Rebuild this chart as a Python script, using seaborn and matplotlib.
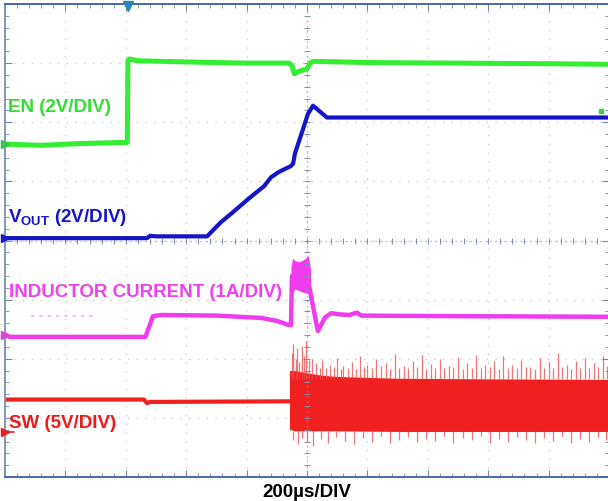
"""
Start-up waveforms (EN, VOUT, inductor current, SW), scope screenshot recreation.
"""

import numpy as np
import matplotlib
matplotlib.use("Agg")
import matplotlib.pyplot as plt
import seaborn as sns

sns.set_theme(style="white")
plt.rcParams['font.family'] = ['Liberation Sans', 'DejaVu Sans']
plt.rcParams['mathtext.fontset'] = 'custom'
plt.rcParams['mathtext.rm'] = 'Liberation Sans:bold'
plt.rcParams['mathtext.bf'] = 'Liberation Sans:bold'

# time in µs (200 µs/div), levels in screen divisions (0 = bottom, 8 = top)
en_t = [0, 120, 250, 405, 407, 412, 440, 600, 800, 940, 950, 958, 968, 985, 1000, 1010, 1020, 1200, 1500, 1800, 2000]
en_v = [5.63, 5.61, 5.64, 5.66, 7.04, 7.07, 7.04, 7.02, 7.00, 7.00, 6.96, 6.82, 6.85, 6.88, 6.90, 7.00, 7.03, 7.01, 7.00, 6.99, 6.98]

vout_t = [0, 300, 470, 480, 500, 669, 715, 755, 805, 858, 881, 907, 947, 954, 960, 984, 1003, 1020, 1043, 1066, 1300, 1600, 2000]
vout_v = [4.04, 4.04, 4.04, 4.08, 4.07, 4.07, 4.31, 4.48, 4.70, 4.92, 5.07, 5.16, 5.26, 5.30, 5.47, 5.84, 6.14, 6.28, 6.18, 6.08, 6.08, 6.08, 6.08]

il_t = [0, 15, 465, 490, 520, 700, 850, 900, 940, 947, 950, 1008, 1036, 1060, 1080, 1110, 1140, 1165, 1180, 1500, 2000]
il_v = [2.41, 2.37, 2.37, 2.72, 2.74, 2.73, 2.69, 2.64, 2.57, 2.57, 3.40, 3.20, 2.47, 2.70, 2.77, 2.75, 2.74, 2.78, 2.73, 2.72, 2.71]
il_band_t = [947, 952, 960, 975, 990, 1005, 1012]
il_band_top = [3.55, 3.70, 3.66, 3.64, 3.68, 3.74, 3.50]
il_band_bot = [3.05, 3.12, 3.18, 3.15, 3.12, 3.10, 3.05]
il_ghost_t = [86, 291]
il_ghost_v = [2.72, 2.72]

sw_t = [0, 460, 470, 480, 947]
sw_v = [1.31, 1.31, 1.25, 1.27, 1.28]
burst_t = [947, 960, 1000, 1050, 1100, 1300, 1600, 2000]
burst_top = [1.80, 1.80, 1.76, 1.72, 1.70, 1.67, 1.66, 1.65]
burst_bot = [0.80, 0.78, 0.78, 0.78, 0.78, 0.77, 0.77, 0.77]
spike_t = [950, 955, 962, 968, 975, 982, 990, 998, 1005, 1015, 1030, 1042, 1050, 1063, 1075, 1088,
           1100, 1112, 1120, 1135, 1150, 1162, 1175, 1188, 1200, 1215, 1230, 1245, 1260, 1275, 1290,
           1305, 1320, 1335, 1350, 1365, 1380, 1395, 1410, 1425, 1440, 1455, 1470, 1485, 1500, 1515,
           1530, 1545, 1560, 1575, 1590, 1605, 1620, 1635, 1650, 1665, 1680, 1695, 1710, 1725, 1740,
           1755, 1770, 1785, 1800, 1815, 1830, 1845, 1860, 1875, 1890, 1905, 1920, 1935, 1950, 1965, 1980, 1995]
spike_top = [2.10, 2.25, 2.00, 2.18, 1.95, 2.22, 2.05, 2.30, 1.98, 2.00, 1.92, 1.85, 1.98, 1.84, 1.90, 1.86,
             2.02, 1.83, 1.88, 1.85, 1.95, 1.82, 2.05, 1.86, 1.90, 1.84, 2.00, 1.87, 1.93, 1.83, 2.08,
             1.85, 1.88, 1.84, 1.97, 1.86, 2.06, 1.83, 1.91, 1.85, 1.99, 1.84, 1.87, 1.86, 2.03, 1.83,
             1.92, 1.85, 2.07, 1.84, 1.89, 1.86, 1.96, 1.83, 2.04, 1.85, 1.90, 1.84, 1.98, 1.86, 1.86,
             1.83, 2.01, 1.85, 1.94, 1.84, 2.09, 1.86, 1.90, 1.83, 1.97, 1.85, 2.02, 1.84, 1.93, 1.86, 2.05, 1.88]
spike_bt = [955, 970, 985, 1000, 1020, 1045, 1070, 1095, 1125, 1155, 1185, 1215, 1245, 1275, 1305, 1335,
            1365, 1395, 1425, 1455, 1485, 1515, 1545, 1575, 1605, 1635, 1665, 1695, 1725, 1755, 1785,
            1815, 1845, 1875, 1905, 1935, 1965, 1990]
spike_bot = [0.62, 0.55, 0.66, 0.60, 0.52, 0.64, 0.58, 0.68, 0.61, 0.56, 0.66, 0.60, 0.70, 0.57, 0.63, 0.68,
             0.59, 0.65, 0.61, 0.70, 0.57, 0.66, 0.62, 0.69, 0.58, 0.64, 0.60, 0.68, 0.63, 0.57, 0.66,
             0.61, 0.69, 0.58, 0.64, 0.60, 0.67, 0.62]

# channel ground markers on the left edge, trigger marker on top
ref_levels = [5.63, 4.05, 2.40, 0.76]
ref_colors = ['#2ec84a', '#1a1acc', '#e040e0', '#e82020']
trigger_t = 407

GREEN = '#33ee33'
BLUE = '#1414c8'
MAGENTA = '#ee3cee'
RED = '#f02020'

W, H = 608, 502
fig = plt.figure(figsize=(W / 100, H / 100), dpi=100)
ax = fig.add_axes([5 / W, 24 / H, 604 / W, 473 / H])
ax.set_xlim(0, 2000)
ax.set_ylim(0, 8)

# graticule
ax.set_xticks(np.arange(0, 2001, 200))
ax.set_yticks(np.arange(0, 8.01, 1))
ax.set_xticks(np.arange(0, 2001, 40), minor=True)
ax.set_yticks(np.arange(0, 8.01, 0.2), minor=True)
ax.grid(True, which='major', color='#c4c4c4', linestyle=(0, (1, 6)), linewidth=0.9)
ax.tick_params(which='both', direction='in', top=True, right=True, bottom=True, left=True,
               labelbottom=False, labelleft=False, color='#7088a8')
ax.tick_params(which='major', length=5, width=0.8)
ax.tick_params(which='minor', length=3, width=0.6)
for side in ['left', 'right', 'top', 'bottom']:
    ax.spines[side].set_color('#4a68a8')
    ax.spines[side].set_linewidth(1.4)
ax.spines['left'].set_color('#8098b8')

ax.axvline(1000, color='#a0a8b8', linestyle=(0, (1, 3)), linewidth=0.9)
ax.axhline(4, color='#a0a8b8', linestyle=(0, (1, 3)), linewidth=0.9)
ax.plot(np.arange(0, 2001, 40), np.full(51, 4.0), ls='none', marker='|', ms=5, mew=0.7, color='#8090a8')
ax.plot(np.full(41, 1000.0), np.arange(0, 8.01, 0.2), ls='none', marker='_', ms=5, mew=0.7, color='#8090a8')

# traces
sns.lineplot(x=il_ghost_t, y=il_ghost_v, ax=ax, color='#f2b0f2', linewidth=1.2, linestyle=(0, (2, 3)))
sns.lineplot(x=en_t, y=en_v, ax=ax, color=GREEN, linewidth=3.6, sort=False)
sns.lineplot(x=vout_t, y=vout_v, ax=ax, color=BLUE, linewidth=3.0, sort=False)
ax.fill_between(il_band_t, il_band_bot, il_band_top, color=MAGENTA, linewidth=0)
sns.lineplot(x=il_t, y=il_v, ax=ax, color=MAGENTA, linewidth=3.2, sort=False)

ax.vlines(spike_t, burst_top[-1], spike_top, color='#f04848', linewidth=0.9, alpha=0.75)
ax.vlines(spike_bt, spike_bot, burst_bot[-1], color='#f04848', linewidth=0.9, alpha=0.75)
ax.fill_between(burst_t, burst_bot, burst_top, color=RED, linewidth=0)
sns.lineplot(x=sw_t, y=sw_v, ax=ax, color=RED, linewidth=3.0, sort=False)
ax.vlines([burst_t[0]], burst_bot[0], burst_top[0], color=RED, linewidth=1.5)

for lvl, c in zip(ref_levels, ref_colors):
    ax.plot([0], [lvl], marker='>', ms=6, color=c, clip_on=False, zorder=5)
ax.plot([0, 30], [ref_levels[3], ref_levels[3]], color=ref_colors[3], lw=1.2, clip_on=False)
ax.plot([trigger_t], [7.97], marker='v', ms=7, color='#2a88b8', clip_on=False, zorder=5)
ax.plot([1974], [6.19], marker='s', ms=3, color='#40d040', zorder=5)


# labels (pixel positions -> figure fraction)
def put(x, y, s, color, **kw):
    fig.text(x / W, 1 - y / H, s, color=color, fontsize=13.5, fontweight='bold',
             va='baseline', **kw)


put(8, 112, 'EN (2V/DIV)', '#30e030')
put(8, 222, r'$\mathbf{V_{OUT}}$ (2V/DIV)', '#1414d0')
put(9, 297, 'INDUCTOR CURRENT (1A/DIV)', '#ee40ee')
put(9, 428, 'SW (5V/DIV)', '#f01818')
put(307, 497, '200µs/DIV', 'black', ha='center')

plt.savefig('out.png', dpi=100)
